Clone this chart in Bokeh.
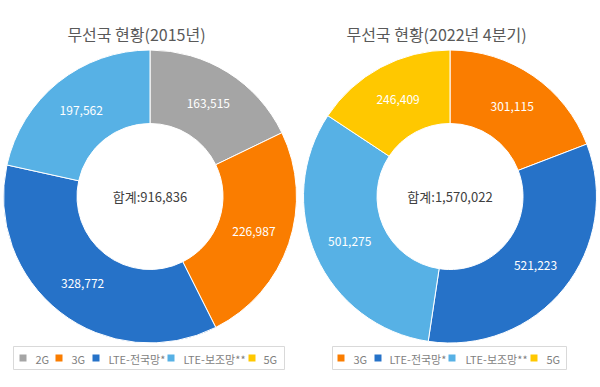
import numpy as np
from bokeh.plotting import figure
from bokeh.models import Range1d
from bokeh.core.properties import value
from bokeh.embed import file_html
from bokeh.resources import INLINE

# ---------------- data ----------------
titles = ["무선국 현황(2015년)", "무선국 현황(2022년 4분기)"]
cats_2015 = ["2G", "3G", "LTE-전국망*", "LTE-보조망**"]
vals_2015 = [163515, 226987, 328772, 197562]
cats_2022 = ["3G", "LTE-전국망*", "LTE-보조망**", "5G"]
vals_2022 = [301115, 521223, 501275, 246409]
legend_2015 = ["2G", "3G", "LTE-전국망*", "LTE-보조망**", "5G"]
legend_2022 = ["3G", "LTE-전국망*", "LTE-보조망**", "5G"]
colors = {"2G": "#A5A5A5", "3G": "#FA7D00", "LTE-전국망*": "#2672C8",
          "LTE-보조망**": "#57B1E5", "5G": "#FFC800"}

# ---------------- layout (page pixel coordinates) ----------------
W, H = 600, 387
PAGE_H = 387
FONT = value("Noto Sans CJK KR")

def Y(y_page):
    return PAGE_H - y_page

p = figure(width=W, height=H, x_range=Range1d(0, W), y_range=Range1d(PAGE_H - H, PAGE_H),
           output_backend="svg", toolbar_location=None, min_border=0,
           x_axis_type=None, y_axis_type=None)
p.grid.visible = False
p.outline_line_color = None
p.background_fill_color = "white"

R_IN, R_OUT = 73, 146.5
R_LAB = (R_IN + R_OUT) / 2


def donut(cx, cy, cats, vals, title, title_x):
    vals = np.array(vals, dtype=float)
    total = int(vals.sum())
    cum = np.concatenate([[0.0], np.cumsum(vals / vals.sum())])
    start = np.pi / 2 - 2 * np.pi * cum[:-1]
    end = np.pi / 2 - 2 * np.pi * cum[1:]
    p.annular_wedge(x=cx, y=Y(cy), inner_radius=R_IN, outer_radius=R_OUT,
                    start_angle=start, end_angle=end, direction="clock",
                    fill_color=[colors[c] for c in cats], line_color="white", line_width=1)
    mid = (start + end) / 2
    p.text(x=cx + R_LAB * np.cos(mid), y=Y(cy) + R_LAB * np.sin(mid),
           text=[f"{int(v):,}" for v in vals], text_color="white", text_font=FONT,
           text_font_size="12px", text_align="center", text_baseline="middle")
    p.text(x=[cx], y=[Y(cy)], text=[f"합계:{total:,}"], text_color="#404040", text_font=FONT,
           text_font_size="13px", text_align="center", text_baseline="middle")
    p.text(x=[title_x], y=[Y(33)], text=[title], text_color="#595959", text_font=FONT,
           text_font_size="16px", text_align="center", text_baseline="middle")


def legend(items, box_l, box_r, sq_x, tx_x):
    p.quad(left=box_l, right=box_r, top=Y(346), bottom=Y(369), fill_color="white",
           line_color="#D9D9D9", line_width=1)
    p.scatter(x=[x + 3.5 for x in sq_x], y=[Y(357.5)] * len(items), marker="square", size=7,
              fill_color=[colors[c] for c in items], line_color=None)
    p.text(x=tx_x, y=[Y(358)] * len(items), text=items, text_color="#7F7F7F", text_font=FONT,
           text_font_size="11px", text_align="left", text_baseline="middle")


donut(149.5, 196, cats_2015, vals_2015, titles[0], 136)
donut(449.5, 196, cats_2022, vals_2022, titles[1], 436)
legend(legend_2015, 13, 284, [19, 55, 92, 167, 248], [35, 71, 108, 183, 263])
legend(legend_2022, 332, 566, [337, 374, 448, 530], [353, 389, 465, 546])

open("out.html", "w").write(file_html(p, INLINE))
